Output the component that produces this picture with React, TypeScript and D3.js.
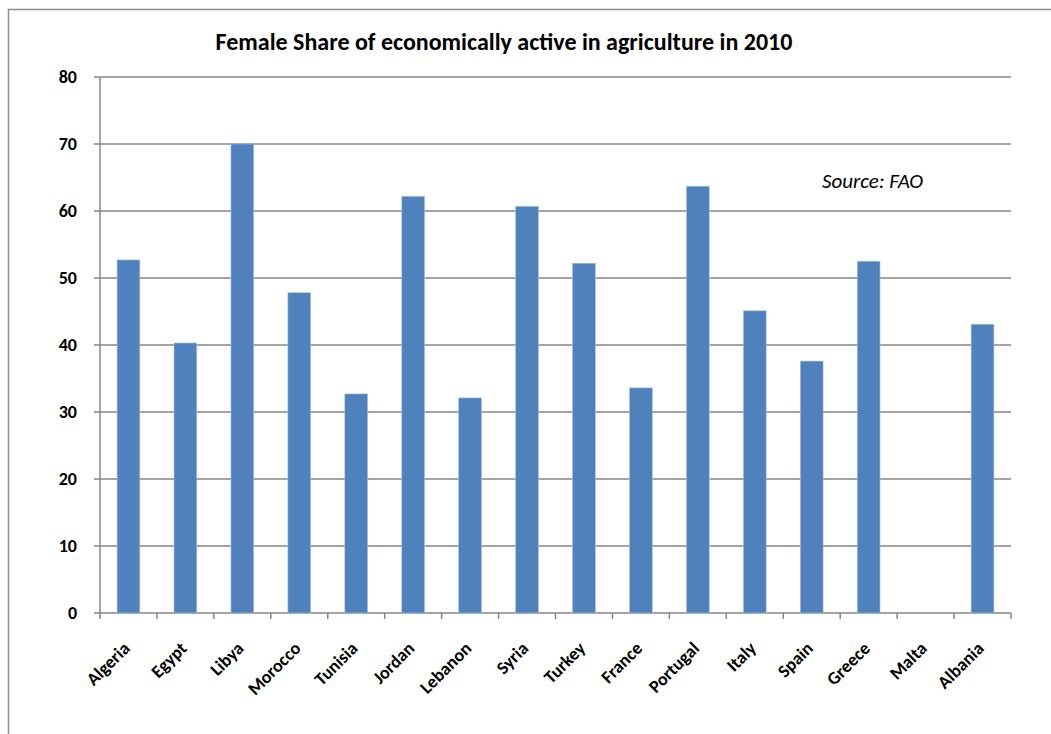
import React from "react";
import * as d3 from "d3";

const categories = ["Algeria","Egypt","Libya","Morocco","Tunisia","Jordan","Lebanon","Syria","Turkey","France","Portugal","Italy","Spain","Greece","Malta","Albania"];
const values = [52.7,40.3,70.0,47.8,32.7,62.2,32.1,60.7,52.2,33.6,63.7,45.1,37.6,52.5,0,43.1];
const yTicks = [0,10,20,30,40,50,60,70,80];
const title = "Female Share of economically active in agriculture in 2010";
const sourceNote = "Source: FAO";

const W = 1051, H = 734;
const left = 100, right = 1011, top = 77, bottom = 613;
const font = "Calibri, Carlito, 'Open Sans', 'Liberation Sans', sans-serif";

export default function App() {
  const x = d3.scaleBand<string>().domain(categories).range([left, right]).paddingInner(0.6).paddingOuter(0.3);
  const xb = d3.scaleBand<string>().domain(categories).range([left, right]);
  const y = d3.scaleLinear().domain([0, 80]).range([bottom, top]);
  const grid = "#868686";
  return (
    <svg width={W} height={H} style={{ position: "absolute", left: 0, top: 0, background: "#fff" }}>
      <rect x={8.5} y={9.5} width={W + 10} height={H + 10} fill="none" stroke="#8c8c8c" strokeWidth={1.5} />
      <text x={504} y={50} textAnchor="middle" fontFamily={font} fontWeight="bold" fontSize={24} fill="#000">{title}</text>
      {yTicks.map(t => (
        <g key={t}>
          <line x1={left - 6} x2={right} y1={y(t)} y2={y(t)} stroke={grid} strokeWidth={1.5} />
          <text x={77} y={y(t)} dy="0.35em" textAnchor="end" fontFamily={font} fontWeight="bold" fontSize={18} fill="#000">{t}</text>
        </g>
      ))}
      <line x1={left} x2={left} y1={top} y2={bottom} stroke={grid} strokeWidth={1.5} />
      {categories.map((c, i) => (
        <line key={"t" + c} x1={xb(c)!} x2={xb(c)!} y1={bottom} y2={bottom + 6} stroke={grid} strokeWidth={1.5} />
      ))}
      <line x1={right} x2={right} y1={bottom} y2={bottom + 6} stroke={grid} strokeWidth={1.5} />
      {categories.map((c, i) => (
        values[i] > 0 ? (
          <rect key={"b" + c} x={x(c)!} y={y(values[i])} width={x.bandwidth()} height={bottom - y(values[i])} fill="#4F81BD" stroke="#a9c1e0" strokeWidth={0.6} />
        ) : null
      ))}
      {categories.map(c => {
        const cx = xb(c)! + xb.bandwidth() / 2 - 2;
        return (
          <text key={"l" + c} transform={`translate(${cx},${bottom + 32}) rotate(-45)`} textAnchor="end" dy="0.35em" fontFamily={font} fontWeight="bold" fontSize={18} fill="#000">{c}</text>
        );
      })}
      <text x={822} y={188} fontFamily={font} fontStyle="italic" fontSize={21} fill="#000">{sourceNote}</text>
    </svg>
  );
}
